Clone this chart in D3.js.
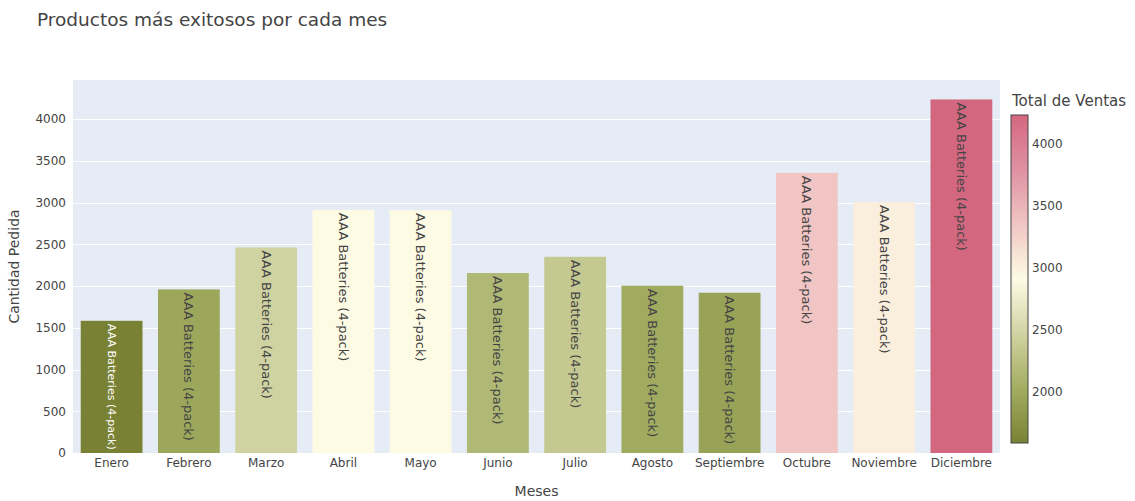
<!DOCTYPE html>
<html>
<head>
<meta charset="utf-8">
<script src="https://cdn.jsdelivr.net/npm/d3@7/dist/d3.min.js"></script>
<style>
  html, body { margin: 0; padding: 0; background: #fff; }
  svg { display: block; font-family: "DejaVu Sans", Verdana, sans-serif; }
</style>
</head>
<body>
<svg id="chart" width="1135" height="501"></svg>
<script>
// Monthly best sellers: quantity ordered of the top product per month
const meses = ["Enero", "Febrero", "Marzo", "Abril", "Mayo", "Junio", "Julio",
               "Agosto", "Septiembre", "Octubre", "Noviembre", "Diciembre"];
const productos = ["AAA Batteries (4-pack)", "AAA Batteries (4-pack)", "AAA Batteries (4-pack)",
                   "AAA Batteries (4-pack)", "AAA Batteries (4-pack)", "AAA Batteries (4-pack)",
                   "AAA Batteries (4-pack)", "AAA Batteries (4-pack)", "AAA Batteries (4-pack)",
                   "AAA Batteries (4-pack)", "AAA Batteries (4-pack)", "AAA Batteries (4-pack)"];
const cantidad = [1584, 1960, 2463, 2913, 2910, 2156, 2351, 2004, 1920, 3357, 3006, 4236];
const yTicks = [0, 500, 1000, 1500, 2000, 2500, 3000, 3500, 4000];
const cbTicks = [2000, 2500, 3000, 3500, 4000];
// ArmyRose diverging colour scale
const armyRose = ["rgb(121,130,52)", "rgb(163,173,98)", "rgb(208,211,162)", "rgb(253,251,228)",
                  "rgb(240,198,195)", "rgb(223,145,163)", "rgb(212,103,128)"];

const svg = d3.select("#chart");
const plot = { left: 73, right: 1000, top: 80, bottom: 453 };
const textColor = "#444";

const vMin = d3.min(cantidad), vMax = d3.max(cantidad);
const colorScale = d3.scaleLinear()
  .domain(armyRose.map((_, i) => vMin + (vMax - vMin) * i / (armyRose.length - 1)))
  .range(armyRose)
  .interpolate(d3.interpolateRgb);

const x = d3.scaleBand().domain(meses).range([plot.left, plot.right]).paddingInner(0.2).paddingOuter(0.1);
const y = d3.scaleLinear().domain([0, vMax * 1.055]).range([plot.bottom, plot.top]);

// Title
svg.append("text")
  .attr("x", 37).attr("y", 26)
  .attr("font-size", 18.5).attr("fill", textColor)
  .text("Productos más exitosos por cada mes");

// Plot background
svg.append("rect")
  .attr("x", plot.left).attr("y", plot.top)
  .attr("width", plot.right - plot.left).attr("height", plot.bottom - plot.top)
  .attr("fill", "#E5ECF6");

// Horizontal grid
svg.append("g").selectAll("line").data(yTicks.filter(d => d > 0)).join("line")
  .attr("x1", plot.left).attr("x2", plot.right)
  .attr("y1", d => Math.round(y(d)) + 0.5).attr("y2", d => Math.round(y(d)) + 0.5)
  .attr("stroke", "#fff").attr("stroke-width", 1);

// Y axis
const yAxis = svg.append("g").attr("transform", `translate(${plot.left},0)`)
  .call(d3.axisLeft(y).tickValues(yTicks).tickSize(0).tickPadding(7).tickFormat(d3.format("d")));
yAxis.select(".domain").remove();
yAxis.selectAll("text").attr("font-size", 12).attr("fill", textColor)
  .attr("font-family", "DejaVu Sans, Verdana, sans-serif");

// X axis
const xAxis = svg.append("g").attr("transform", `translate(0,${plot.bottom})`)
  .call(d3.axisBottom(x).tickSize(0).tickPadding(5));
xAxis.select(".domain").remove();
xAxis.selectAll("text").attr("font-size", 12).attr("fill", textColor)
  .attr("font-family", "DejaVu Sans, Verdana, sans-serif");

// Axis titles
svg.append("text")
  .attr("x", (plot.left + plot.right) / 2).attr("y", 496)
  .attr("text-anchor", "middle").attr("font-size", 14).attr("fill", textColor)
  .text("Meses");
svg.append("text")
  .attr("transform", `translate(19,${(plot.top + plot.bottom) / 2}) rotate(-90)`)
  .attr("text-anchor", "middle").attr("font-size", 14).attr("fill", textColor)
  .text("Cantidad Pedida");

// Bars
const data = meses.map((m, i) => ({ mes: m, valor: cantidad[i], producto: productos[i] }));
const bars = svg.append("g").selectAll("g").data(data).join("g");
bars.append("rect")
  .attr("x", d => x(d.mes)).attr("width", x.bandwidth())
  .attr("y", d => y(d.valor)).attr("height", d => y(0) - y(d.valor))
  .attr("fill", d => colorScale(d.valor));

// Bar labels, rotated and anchored at the top of each bar
const pad = 3;
const labelSize = 13;
bars.append("text")
  .attr("transform", d => `translate(${x(d.mes) + x.bandwidth() / 2},${y(d.valor) + pad}) rotate(90)`)
  .attr("dominant-baseline", "central")
  .attr("font-size", labelSize)
  .attr("fill", d => {
    const c = d3.rgb(colorScale(d.valor));
    const lum = 0.299 * c.r + 0.587 * c.g + 0.114 * c.b;
    return lum < 130 ? "#fff" : textColor;
  })
  .text(d => d.producto)
  .each(function (d) {
    const avail = y(0) - y(d.valor) - 2 * pad;
    const len = this.getComputedTextLength();
    if (len > avail) d3.select(this).attr("font-size", labelSize * avail / len);
  });

// Colour bar
const cb = { x: 1011, width: 17, top: 115, bottom: 443 };
const cy = d3.scaleLinear().domain([vMin, vMax]).range([cb.bottom, cb.top]);
const grad = svg.append("defs").append("linearGradient")
  .attr("id", "cbGrad").attr("x1", 0).attr("x2", 0).attr("y1", 1).attr("y2", 0);
grad.selectAll("stop").data(armyRose).join("stop")
  .attr("offset", (_, i) => i / (armyRose.length - 1))
  .attr("stop-color", d => d);
svg.append("rect")
  .attr("x", cb.x).attr("y", cb.top).attr("width", cb.width).attr("height", cb.bottom - cb.top)
  .attr("fill", "url(#cbGrad)").attr("stroke", "#444").attr("stroke-width", 1);
svg.append("g").selectAll("text").data(cbTicks).join("text")
  .attr("x", cb.x + cb.width + 4).attr("y", d => cy(d))
  .attr("dominant-baseline", "central")
  .attr("font-size", 12).attr("fill", textColor)
  .text(d => d);
svg.append("text")
  .attr("x", 1012).attr("y", 106)
  .attr("font-size", 15).attr("fill", textColor)
  .text("Total de Ventas");
</script>
</body>
</html>
